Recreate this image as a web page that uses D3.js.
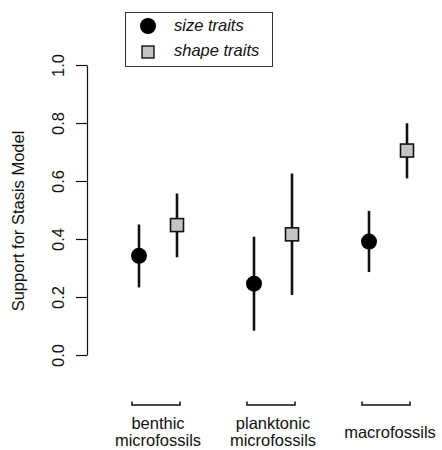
<!DOCTYPE html>
<html>
<head>
<meta charset="utf-8">
<script src="https://cdn.jsdelivr.net/npm/d3@7"></script>
<style>
  body { margin: 0; background: #fff; }
  text { font-family: "Liberation Sans", Arial, sans-serif; fill: #111; }
</style>
</head>
<body>
<div id="chart"></div>
<script>
// data
const groups = ["benthic", "planktonic", "macro"];
const groupLabels = [["benthic", "microfossils"], ["planktonic", "microfossils"], ["macrofossils"]];
const sizeMean = [0.342, 0.246, 0.391];
const sizeLow = [0.233, 0.084, 0.286];
const sizeHigh = [0.450, 0.408, 0.497];
const shapeMean = [0.448, 0.416, 0.705];
const shapeLow = [0.337, 0.207, 0.609];
const shapeHigh = [0.557, 0.626, 0.799];
const yTicks = [0, 0.2, 0.4, 0.6, 0.8, 1.0];

const svgWidth = 442;
const svgHeight = 450;
const fontSize = '16.5px';

const svg = d3.select('#chart')
    .append('svg')
    .attr('width', svgWidth)
    .attr('height', svgHeight);

const xScale = d3.scalePoint()
    .domain(groups)
    .range([158, 388]);

const yScale = d3.scaleLinear()
    .domain([0, 1])
    .range([355, 65]);

const offset = 19;

// y axis
const yAxis = svg.append('g')
    .attr('transform', 'translate(87,0)')
    .call(d3.axisLeft(yScale).tickValues(yTicks).tickFormat(d3.format('.1f')).tickSize(11).tickSizeOuter(0));
yAxis.select('.domain').attr('stroke', '#111').attr('stroke-width', 1.2);
yAxis.selectAll('.tick line').attr('stroke', '#111').attr('stroke-width', 1.2);
yAxis.selectAll('.tick text')
    .attr('x', null).attr('dy', null)
    .attr('transform', 'translate(-23,0) rotate(-90)')
    .attr('text-anchor', 'middle')
    .style('font-size', fontSize)
    .style('font-family', '"Liberation Sans", Arial, sans-serif')
    .attr('fill', '#111');

svg.append('text')
    .attr('transform', 'translate(24,221) rotate(-90)')
    .attr('text-anchor', 'middle')
    .style('font-size', fontSize)
    .text('Support for Stasis Model');

// group brackets and labels
groups.forEach((g, i) => {
    const cx = xScale(g) - 2;
    svg.append('path')
        .attr('d', `M${cx - 24},401.5 V405 H${cx + 24} V401.5`)
        .attr('fill', 'none')
        .attr('stroke', '#111')
        .attr('stroke-width', 1.5);
    const lines = groupLabels[i];
    const t = svg.append('text')
        .attr('text-anchor', 'middle')
        .style('font-size', fontSize);
    if (lines.length === 1) {
        t.attr('x', xScale(g) + 2).attr('y', 438).text(lines[0]);
    } else {
        lines.forEach((l, j) => {
            t.append('tspan').attr('x', xScale(g)).attr('y', 429 + j * 17).text(l);
        });
    }
});

// error bars
const bars = (low, high, dx) => {
    svg.selectAll(null)
        .data(groups)
        .enter()
        .append('line')
        .attr('x1', d => xScale(d) + dx)
        .attr('x2', d => xScale(d) + dx)
        .attr('y1', (d, i) => yScale(low[i]))
        .attr('y2', (d, i) => yScale(high[i]))
        .attr('stroke', '#111')
        .attr('stroke-width', 2.6);
};
bars(sizeLow, sizeHigh, -offset);
bars(shapeLow, shapeHigh, offset);

// size traits (circles)
svg.selectAll('.size-pt')
    .data(groups)
    .enter()
    .append('circle')
    .attr('class', 'size-pt')
    .attr('cx', d => xScale(d) - offset)
    .attr('cy', (d, i) => yScale(sizeMean[i]))
    .attr('r', 8)
    .attr('fill', '#000');

// shape traits (squares)
const sq = 13;
svg.selectAll('.shape-pt')
    .data(groups)
    .enter()
    .append('rect')
    .attr('class', 'shape-pt')
    .attr('x', d => xScale(d) + offset - sq / 2)
    .attr('y', (d, i) => yScale(shapeMean[i]) - sq / 2)
    .attr('width', sq)
    .attr('height', sq)
    .attr('fill', '#c4c4c4')
    .attr('stroke', '#111')
    .attr('stroke-width', 1.6);

// legend
const legend = svg.append('g');
legend.append('rect')
    .attr('x', 125.5).attr('y', 12.5)
    .attr('width', 147).attr('height', 54)
    .attr('fill', '#fff')
    .attr('stroke', '#333')
    .attr('stroke-width', 1);
legend.append('circle')
    .attr('cx', 148).attr('cy', 26).attr('r', 8).attr('fill', '#000');
legend.append('rect')
    .attr('x', 148 - 6).attr('y', 52 - 6).attr('width', 12).attr('height', 12)
    .attr('fill', '#c4c4c4').attr('stroke', '#111').attr('stroke-width', 1.4);
legend.append('text')
    .attr('x', 174).attr('y', 31)
    .style('font-size', fontSize).style('font-style', 'italic')
    .text('size traits');
legend.append('text')
    .attr('x', 174).attr('y', 56)
    .style('font-size', fontSize).style('font-style', 'italic')
    .text('shape traits');
</script>
</body>
</html>
